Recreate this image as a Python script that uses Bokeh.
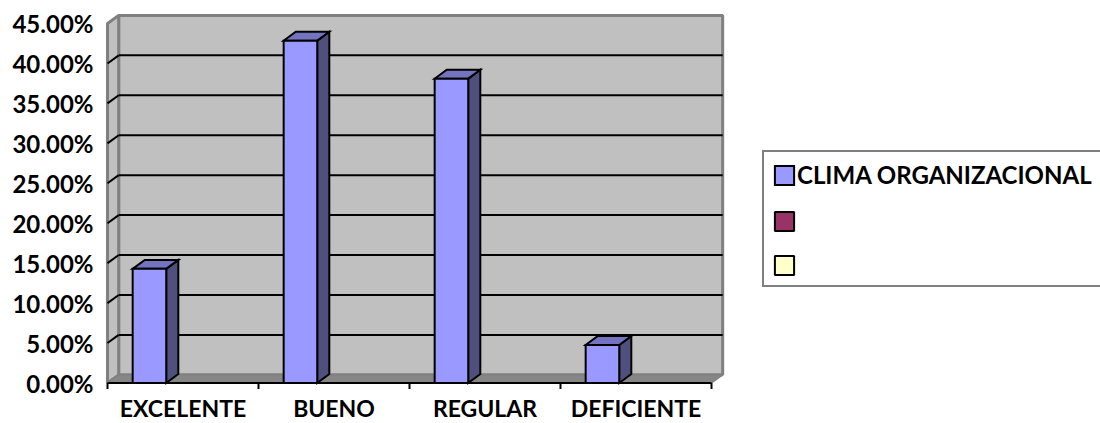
from bokeh.plotting import figure
from bokeh.models import Range1d, FixedTicker, NumeralTickFormatter, Legend, LegendItem
from bokeh.core.properties import value
from bokeh.embed import file_html
from bokeh.resources import INLINE

# ---- data ----
categories = ["EXCELENTE", "BUENO", "REGULAR", "DEFICIENTE"]
clima = [0.1429, 0.4286, 0.3810, 0.0476]
series_names = ["CLIMA ORGANIZACIONAL", "", ""]
series_colors = ["#9999FF", "#993366", "#FFFFCC"]
y_ticks = [0.0, 0.05, 0.10, 0.15, 0.20, 0.25, 0.30, 0.35, 0.40, 0.45]

# ---- geometry (style) ----
n = len(categories)
n_series = len(series_names)
gap = 1.5
bw = 1.0 / (n_series + gap)
off = gap / 2 * bw
dxw, dyw = 0.074, 0.0102     # wall depth
dxb, dyb = 0.080, 0.0112     # bar depth
ymax = y_ticks[-1]
FONT = "Lato"
NAN = float("nan")

p = figure(width=1100, height=423,
           x_range=Range1d(-0.0199, 6.5762), y_range=Range1d(-0.0507, 0.47885),
           output_backend="svg", toolbar_location=None,
           min_border_left=104, min_border_right=0, min_border_top=0, min_border_bottom=0)
p.xaxis.visible = False
p.xgrid.visible = False
p.ygrid.visible = False
p.outline_line_color = None
p.background_fill_color = "white"
p.border_fill_color = "white"

# walls
p.quad(left=[dxw], right=[n + dxw], bottom=[dyw], top=[ymax + dyw],
       fill_color="#C0C0C0", line_color="#808080", line_width=3)
p.patch([0, dxw, dxw, 0], [0, dyw, ymax + dyw, ymax],
        fill_color="#C0C0C0", line_color="#808080", line_width=3)
p.patch([0, n, n + dxw, dxw], [0, 0, dyw, dyw],
        fill_color="#868686", line_color="#808080", line_width=1.5)

# gridlines
gt = y_ticks[1:-1]
p.segment(x0=[dxw] * len(gt), y0=[t + dyw for t in gt], x1=[n + dxw] * len(gt),
          y1=[t + dyw for t in gt], line_color="black", line_width=2)
p.segment(x0=[0] * len(gt), y0=gt, x1=[dxw] * len(gt), y1=[t + dyw for t in gt],
          line_color="black", line_width=2)

# category axis (front floor edge) with ticks between categories
bounds = list(range(n + 1))
p.segment(x0=[0], y0=[0], x1=[n], y1=[0], line_color="black", line_width=2)
p.ray(x=bounds, y=[0] * len(bounds), length=6, length_units="screen",
      angle=-90, angle_units="deg", line_color="black", line_width=2)

# bars (series 1)
lefts = [i + off for i in range(n)]
rights = [l + bw for l in lefts]
top_xs = [[l, r, r + dxb, l + dxb] for l, r in zip(lefts, rights)]
top_ys = [[v, v, v + dyb, v + dyb] for v in clima]
side_xs = [[r, r + dxb, r + dxb, r] for r in rights]
side_ys = [[0, dyb, v + dyb, v] for v in clima]
p.patches(side_xs, side_ys, fill_color="#50507F", line_color="black", line_width=2, line_join="miter")
p.patches(top_xs, top_ys, fill_color="#7373BF", line_color="black", line_width=2, line_join="miter")
front = p.quad(left=lefts, right=rights, bottom=[0] * n, top=clima,
               fill_color=series_colors[0], line_color="black", line_width=2, line_join="miter")

# category labels
centers = [i + 0.5 for i in range(n)]
p.text(x=centers, y=[0] * n, text=categories, y_offset=25,
       text_align="center", text_baseline="middle",
       text_font=value(FONT), text_font_style="bold", text_font_size="23px",
       text_color="black")

# y axis
ya = p.yaxis[0]
ya.ticker = FixedTicker(ticks=y_ticks)
ya.formatter = NumeralTickFormatter(format="0.00%")
ya.axis_line_color = None
ya.major_tick_line_color = None
ya.major_tick_out = 0
ya.major_tick_in = 0
ya.minor_tick_line_color = None
ya.minor_tick_out = 0
ya.major_label_text_font = FONT
ya.major_label_text_font_style = "bold"
ya.major_label_text_font_size = "24px"
ya.major_label_text_color = "black"
ya.major_label_standoff = 11

# legend
items = [LegendItem(label=series_names[0], renderers=[front])]
for name, col in zip(series_names[1:], series_colors[1:]):
    r = p.quad(left=[NAN], right=[NAN], bottom=[NAN], top=[NAN], fill_color=col,
               line_color="black", line_width=2)
    items.append(LegendItem(label=name, renderers=[r]))
legend = Legend(items=items, location=(658, 136),
                glyph_width=24, glyph_height=24, label_height=24, spacing=20,
                padding=8, margin=0, label_standoff=1,
                label_text_font=FONT, label_text_font_style="bold",
                label_text_font_size="24px", label_text_color="black",
                border_line_color="black", border_line_width=2.5,
                background_fill_color="white", background_fill_alpha=1.0)
p.add_layout(legend)

open("out.html", "w").write(file_html(p, INLINE))
